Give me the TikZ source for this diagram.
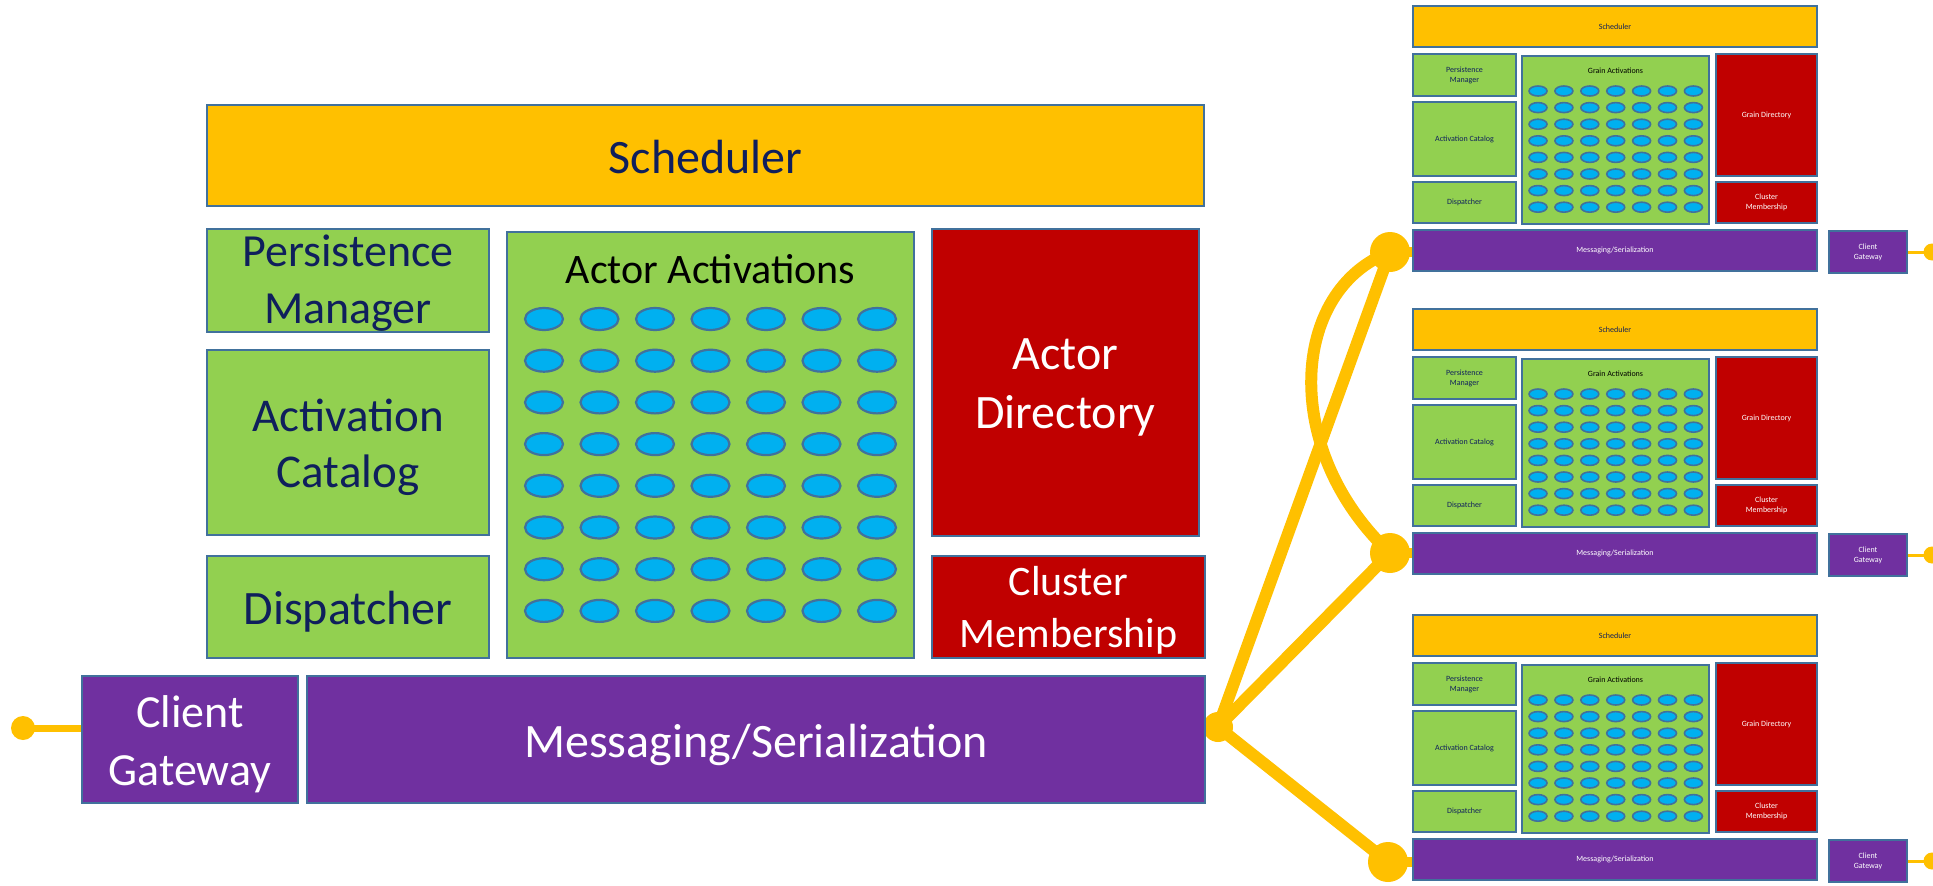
\documentclass[tikz,border=0pt]{standalone}
\usepackage{fontspec}
\setmainfont{Carlito}
\usetikzlibrary{backgrounds}
\pgfdeclarelayer{bottom}
\pgfsetlayers{bottom,background,main}
\definecolor{yel}{HTML}{FFC000}
\definecolor{grn}{HTML}{92D050}
\definecolor{redbox}{HTML}{C00000}
\definecolor{pur}{HTML}{7030A0}
\definecolor{edgeblue}{HTML}{41719C}
\definecolor{txtnavy}{HTML}{0F1F5C}
\definecolor{ellblue}{HTML}{00B0F0}
\tikzset{
  box/.style={draw=edgeblue, line width=2.2pt, inner sep=0pt, outer sep=0pt, align=center, text=txtnavy},
  yb/.style={box, fill=yel},
  gb/.style={box, fill=grn},
  rb/.style={box, fill=redbox, text=white},
  pb/.style={box, fill=pur, text=white},
  big/.style={font=\fontsize{48}{59}\selectfont},
  midf/.style={font=\fontsize{42}{52}\selectfont},
  sl/.style={line width=2.8pt, font=\fontsize{8}{10}\selectfont},
  conn/.style={draw=yel, line width=12pt},
  ydot/.style={circle, fill=yel, inner sep=0pt, outer sep=0pt},
  act/.style={fill=ellblue, draw=edgeblue, line width=2.2pt},
  sact/.style={fill=ellblue, draw=edgeblue, line width=1.6pt}
}
% box: name, x1, y1, x2, y2, style, text, text shift down
\newcommand\bx[8]{%
\node[#6, minimum width={(#4)*1pt-(#2)*1pt}, minimum height={(#5)*1pt-(#3)*1pt}] (#1) at ({((#2)+(#4))/2},{((#3)+(#5))/2}) {};
\node[#6, draw=none, fill=none, yshift=-#8pt] (#1t) at (#1.center) {#7};}
\newcommand\silo[2]{%
\begin{scope}[shift={(0,#2)}]
\bx{#1sch}{1413}{-224}{1817}{-183}{yb,sl}{Scheduler}{0}
\bx{#1pm}{1413}{-176}{1516}{-134}{gb,sl}{Persistence\\Manager}{0}
\bx{#1ac}{1413}{-128}{1516}{-54}{gb,sl}{Activation Catalog}{0}
\bx{#1dp}{1413}{-48}{1516}{-7}{gb,sl}{Dispatcher}{0}
\bx{#1ga}{1522}{-174}{1709}{-6}{gb,sl}{}{0}
\node[font=\fontsize{8}{10}\selectfont, text=black] (#1gal) at (1615.5,-159) {Grain Activations};
\foreach \i in {0,...,6} \foreach \j in {0,...,7} \draw[sact] ({1538+25.9*\i},{-139+16.6*\j}) ellipse [x radius=9, y radius=5];
\bx{#1gd}{1716}{-176}{1817}{-54}{rb,sl}{Grain Directory}{0}
\bx{#1cm}{1716}{-48}{1817}{-7}{rb,sl}{Cluster\\Membership}{0}
\bx{#1ms}{1413}{0}{1817}{41}{pb,sl}{Messaging/Serialization}{0}
\bx{#1cg}{1829}{1}{1907}{43}{pb,sl}{Client\\Gateway}{0}
\node[ydot, minimum size=17pt] (#1cd) at (1932,22) {};
\end{scope}}
\begin{document}
\begin{tikzpicture}[x=1pt, y=-1pt]
\clip (0,0) rectangle (1933,886);
\begin{pgfonlayer}{bottom}
\fill[white] (0,0) rectangle (1933,886);
\end{pgfonlayer}
% main silo
\bx{sch}{207}{105}{1204}{206}{yb,big}{Scheduler}{2}
\bx{pm}{207}{229}{489}{332}{gb,font=\fontsize{46}{57}\selectfont}{Persistence\\Manager}{3}
\bx{ac}{207}{350}{489}{535}{gb,font=\fontsize{47}{56}\selectfont}{Activation\\Catalog}{5}
\bx{dp}{207}{556}{489}{658}{gb,big}{Dispatcher}{5}
\bx{ga}{507}{232}{914}{658}{gb}{}{0}
\node[font=\fontsize{42}{51}\selectfont, text=black] (gal) at (710.5,269) {Actor Activations};
\foreach \i in {0,...,6} \foreach \j in {0,...,7} \draw[act] ({544+55.5*\i},{319+41.7*\j}) ellipse [x radius=19, y radius=11];
\bx{ad}{932}{229}{1199}{536}{rb,big}{Actor\\Directory}{5}
\bx{cm}{932}{556}{1205}{658}{rb,midf}{Cluster\\Membership}{3}
\bx{cg}{82}{676}{298}{803}{pb,font=\fontsize{46}{58}\selectfont}{Client\\Gateway}{5}
\bx{ms}{307}{676}{1205}{803}{pb,big}{Messaging/Serialization}{5}
% small silos
\silo{t}{230}
\silo{m}{533}
\silo{b}{839}
% connectors
\begin{pgfonlayer}{background}
\node[ydot, minimum size=24pt] (ld) at (23,728) {};
\draw[yel, line width=7pt] (ld.center) -- (ld.center -| cg.west);
\node[ydot, minimum size=30pt] (hub) at (1218,727) {};
\node[ydot, minimum size=40pt] (h1) at (1390,252) {};
\node[ydot, minimum size=40pt] (h2) at (1390,553) {};
\node[ydot, minimum size=40pt] (h3) at (1388,862) {};
\draw[yel, line width=10pt] (hub.center) -- (hub.center -| ms.east);
\draw[conn] (hub.center) -- (h1.center);
\draw[conn] (hub.center) -- (h2.center);
\draw[conn] (hub.center) -- (h3.center);
\draw[conn] (h1.center) .. controls (1290,290) and (1280,450) .. (h2.center);
\draw[yel, line width=10pt] (h1.center) -- (h1.center -| tms.west);
\draw[yel, line width=10pt] (h2.center) -- (h2.center -| mms.west);
\draw[yel, line width=10pt] (h3.center) -- (h3.center -| bms.west);
\draw[yel, line width=3pt] (tcg.east |- tcd.center) -- (tcd.center);
\draw[yel, line width=3pt] (mcg.east |- mcd.center) -- (mcd.center);
\draw[yel, line width=3pt] (bcg.east |- bcd.center) -- (bcd.center);
\end{pgfonlayer}
\end{tikzpicture}
\end{document}
